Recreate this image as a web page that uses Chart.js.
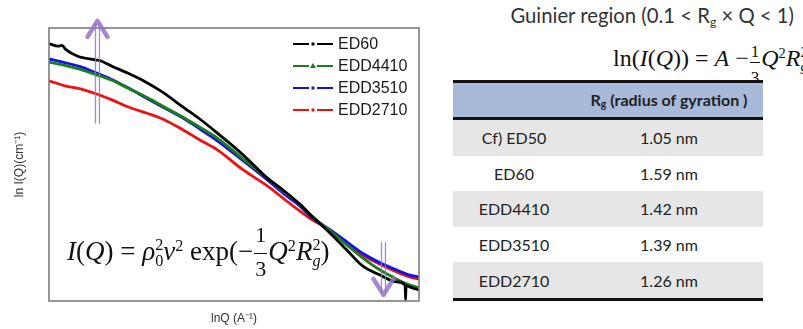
<!DOCTYPE html>
<html>
<head>
<meta charset="utf-8">
<script src="https://cdn.jsdelivr.net/npm/chart.js@4"></script>
<style>
  html, body { margin: 0; padding: 0; background: #fff; }
  body { width: 803px; height: 329px; position: relative; overflow: hidden; }
  #plot { position: absolute; left: 0; top: 0; width: 440px; height: 329px; }
  .math { position: absolute; font-family: "Liberation Serif", "Times New Roman", serif; color: #111; white-space: nowrap; }
  .math i { font-style: italic; }
  .sup { font-size: 0.6em; position: relative; top: -0.55em; line-height: 1; }
  .ss { display: inline-block; vertical-align: -0.35em; font-size: 0.6em; line-height: 0.95; text-align: left; }
  .ss b { display: block; font-weight: normal; }
  .frac { display: inline-block; text-align: center; line-height: 1; margin: 0 1px; }
  .frac b { display: block; font-weight: normal; padding: 0 1px; }
  .frac b:first-child { border-bottom: 1.3px solid #111; }
  #eq1 { line-height: 64px; }
  #eq1 .frac { font-size: 22px; vertical-align: -16px; }
  #eq1 .frac b:first-child { padding-bottom: 7px; }
  #eq1 .frac b:last-child { padding-top: 4px; }
  #eq2 { line-height: 50px; }
  #eq2 .frac { font-size: 17px; vertical-align: -17px; }
  #eq2 .frac b:first-child { padding-bottom: 2px; }
  #eq2 .frac b:last-child { padding-top: 6px; }
  #guinier { position: absolute; right: 9px; top: 3px; font-family: Lato, "Open Sans", sans-serif; font-size: 20.3px; color: #333; white-space: nowrap; }
  #guinier sub { font-size: 0.6em; vertical-align: -0.25em; }
  #rgtable { position: absolute; left: 453px; top: 80px; width: 310px; border-collapse: collapse; font-family: Lato, "Open Sans", sans-serif; font-size: 16px; color: #222; }
  #rgtable th, #rgtable td { text-align: center; padding: 0; height: 35.6px; }
  #rgtable thead tr { background: #a9b9d8; border-top: 3px solid #111; border-bottom: 3px solid #111; }
  #rgtable thead th { height: 34px; font-weight: bold; }
  #rgtable tbody tr:nth-child(odd) { background: #e6e6e6; }
  #rgtable tbody tr:last-child { border-bottom: 3px solid #111; }
  #rgtable sub { font-size: 0.65em; vertical-align: -0.2em; }
</style>
</head>
<body>
<div id="plot"><canvas id="saxs"></canvas></div>

<div class="math" id="eq1" style="left:67px; top:219px; font-size:27px;">
  <i>I</i>(<i>Q</i>) = <i>ρ</i><span class="ss"><b>2</b><b>0</b></span><i>v</i><span class="sup">2</span> exp(&minus;<span class="frac"><b>1</b><b>3</b></span><i>Q</i><span class="sup">2</span><i>R</i><span class="ss"><b>2</b><b><i>g</i></b></span>)
</div>

<div id="guinier">Guinier region (0.1 &lt; R<sub>g</sub> &times; Q &lt; 1)</div>
<div class="math" id="eq2" style="left:613px; top:33px; font-size:24px;">
  ln(<i>I</i>(<i>Q</i>)) = <i>A</i> &minus;<span class="frac"><b>1</b><b>3</b></span><i>Q</i><span class="sup">2</span><i>R</i><span class="ss"><b>2</b><b><i>g</i></b></span>
</div>

<table id="rgtable">
  <colgroup><col style="width:122px"><col style="width:188px"></colgroup>
  <thead><tr><th></th><th>R<sub>g</sub> (radius of gyration )</th></tr></thead>
  <tbody id="rgbody"></tbody>
</table>

<script>
// ln Q positions (A^-1)
const lnQ = [-4.00, -3.83, -3.66, -3.50, -3.32, -3.15, -2.93, -2.75, -2.55, -2.37, -2.18, -1.90, -1.64, -1.47, -1.29, -1.15, -0.96, -0.78, -0.61, -0.42, -0.24, -0.10, 0.00];
const lnQ_ED60 = [-4.00, -3.90, -3.86, -3.82, -3.69, -3.50, -3.43, -3.39, -3.32, -3.15, -2.96, -2.78, -2.55, -2.37, -2.18, -1.90, -1.64, -1.47, -1.29, -1.15, -0.96, -0.78, -0.61, -0.42, -0.24, -0.15, -0.145, -0.14, -0.10, 0.00];

// ln I(Q) values
const ED60 = [2.66, 2.60, 2.62, 2.53, 2.38, 2.30, 2.27, 2.23, 2.16, 2.01, 1.82, 1.60, 1.26, 1.00, 0.69, 0.21, -0.30, -0.56, -0.87, -1.15, -1.51, -1.88, -2.23, -2.43, -2.58, -2.65, -2.98, -2.66, -2.69, -2.76];
const EDD4410 = [2.25, 2.18, 2.09, 1.98, 1.85, 1.68, 1.46, 1.26, 1.04, 0.82, 0.58, 0.12, -0.30, -0.58, -0.87, -1.15, -1.46, -1.77, -2.05, -2.32, -2.52, -2.65, -2.71];
const EDD3510 = [2.32, 2.24, 2.15, 2.02, 1.87, 1.69, 1.44, 1.24, 1.02, 0.78, 0.52, 0.08, -0.34, -0.63, -0.91, -1.18, -1.44, -1.70, -1.95, -2.16, -2.32, -2.43, -2.47];
const EDD2710 = [1.84, 1.73, 1.66, 1.56, 1.42, 1.27, 1.12, 0.98, 0.76, 0.54, 0.32, -0.12, -0.47, -0.74, -1.02, -1.22, -1.44, -1.73, -1.99, -2.19, -2.36, -2.47, -2.52];

const seriesNames = ['ED60', 'EDD4410', 'EDD3510', 'EDD2710'];
const seriesColors = ['#000000', '#1b7d1b', '#1212f0', '#f01010'];

// table on the right
const tableSamples = ['Cf) ED50', 'ED60', 'EDD4410', 'EDD3510', 'EDD2710'];
const tableRg = ['1.05 nm', '1.59 nm', '1.42 nm', '1.39 nm', '1.26 nm'];

// the two purple arrows, in data units
const arrowUp = { x: -3.476, from: 0.91, to: 3.20 };
const arrowDown = { x: -0.384, from: -1.72, to: -2.91 };

const rgbody = document.getElementById('rgbody');
tableSamples.forEach((s, i) => {
    const row = document.createElement('tr');
    row.innerHTML = `<td>${s}</td><td>${tableRg[i]}</td>`;
    rgbody.appendChild(row);
});

function pts(xs, ys) {
    return xs.map((x, i) => ({ x: x, y: ys[i] }));
}

const frameAndLabels = {
    id: 'frameAndLabels',
    afterDraw(chart) {
        const ctx = chart.ctx;
        const a = chart.chartArea;
        const xs = chart.scales.x, ys = chart.scales.y;
        ctx.save();

        // plot frame
        ctx.strokeStyle = '#7c7c7c';
        ctx.lineWidth = 1.6;
        ctx.strokeRect(a.left, a.top, a.right - a.left, a.bottom - a.top);

        // axis titles
        ctx.fillStyle = '#333';
        ctx.font = '12px "Liberation Sans", Arial, sans-serif';
        ctx.textAlign = 'center';
        ctx.textBaseline = 'middle';
        ctx.fillText('lnQ (A\u207B\u00B9)', (a.left + a.right) / 2, a.bottom + 18);
        ctx.save();
        ctx.translate(20, (a.top + a.bottom) / 2);
        ctx.rotate(-Math.PI / 2);
        ctx.fillText('ln I(Q)(cm\u207B\u00B9)', 0, 0);
        ctx.restore();

        // legend inside the plot
        ctx.font = '16px "Liberation Sans", Arial, sans-serif';
        ctx.textAlign = 'left';
        seriesNames.forEach((name, i) => {
            const y = a.top + 16 + i * 22;
            const x0 = a.right - 126;
            ctx.strokeStyle = seriesColors[i];
            ctx.fillStyle = seriesColors[i];
            ctx.lineWidth = 2.2;
            ctx.beginPath();
            ctx.moveTo(x0, y); ctx.lineTo(x0 + 16, y);
            ctx.moveTo(x0 + 24, y); ctx.lineTo(x0 + 40, y);
            ctx.stroke();
            if (i === 1) {
                ctx.beginPath();
                ctx.moveTo(x0 + 20, y - 3); ctx.lineTo(x0 + 23, y + 2); ctx.lineTo(x0 + 17, y + 2);
                ctx.closePath(); ctx.fill();
            } else {
                ctx.fillRect(x0 + 18.5, y - 1.5, 3, 3);
            }
            ctx.fillStyle = '#1a1a1a';
            ctx.fillText(name, x0 + 45, y + 1);
        });

        // purple arrows
        ctx.strokeStyle = 'rgba(150, 115, 200, 0.85)';
        ctx.lineJoin = 'round';
        ctx.lineCap = 'round';
        [arrowUp, arrowDown].forEach(ar => {
            const px = xs.getPixelForValue(ar.x);
            const y0 = ys.getPixelForValue(ar.from);
            const y1 = ys.getPixelForValue(ar.to);
            const dir = y1 < y0 ? -1 : 1;
            ctx.lineWidth = 1.3;
            ctx.beginPath();
            ctx.moveTo(px - 2, y0); ctx.lineTo(px - 2, y1 - dir * 4);
            ctx.moveTo(px + 2, y0); ctx.lineTo(px + 2, y1 - dir * 4);
            ctx.stroke();
            ctx.lineWidth = 4.5;
            ctx.beginPath();
            ctx.moveTo(px - 10, y1 - dir * 18);
            ctx.lineTo(px, y1 - dir * 2);
            ctx.lineTo(px + 10, y1 - dir * 18);
            ctx.stroke();
        });
        ctx.restore();
    }
};

const sets = [pts(lnQ_ED60, ED60), pts(lnQ, EDD4410), pts(lnQ, EDD3510), pts(lnQ, EDD2710)];

new Chart(document.getElementById('saxs'), {
    type: 'line',
    data: {
        datasets: seriesNames.map((name, i) => ({
            label: name,
            data: sets[i],
            borderColor: seriesColors[i],
            backgroundColor: seriesColors[i],
            borderWidth: 2.8,
            pointRadius: 0,
            cubicInterpolationMode: 'monotone'
        }))
    },
    options: {
        responsive: true,
        maintainAspectRatio: false,
        animation: false,
        layout: { padding: { left: 49, right: 21, top: 28, bottom: 28 } },
        plugins: { legend: { display: false }, tooltip: { enabled: false } },
        scales: {
            x: { type: 'linear', min: -4, max: 0, display: false },
            y: { type: 'linear', min: -3, max: 3, display: false }
        }
    },
    plugins: [frameAndLabels]
});
</script>
</body>
</html>
